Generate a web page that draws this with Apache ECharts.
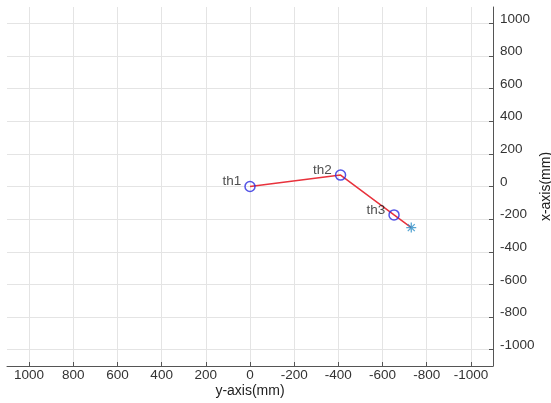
<!DOCTYPE html>
<html lang="en">
<head>
    <meta charset="UTF-8">
    <title>arm</title>
    <script src="https://cdn.jsdelivr.net/npm/echarts@6/dist/echarts.min.js"></script>
</head>
<style>
    html, body { margin: 0; padding: 0; background: #fff; }
    #main { width: 551px; height: 403px; }
</style>
<body>
<div id="main"></div>
<script>
    // joints (horizontal = "y-axis", vertical = "x-axis")
    var jointNames = ['th1', 'th2', 'th3'];
    var jointH = [0, -410, -652];
    var jointV = [0, 70, -174];
    // end effector
    var endH = [-730];
    var endV = [-252];
    // tick labels shown every 200
    var tickValues = [-1000, -800, -600, -400, -200, 0, 200, 400, 600, 800, 1000];

    var font = 'Liberation Sans, Arial, sans-serif';

    var joints = [];
    for (var i in jointNames) {
        joints.push({ value: [jointH[i], jointV[i]], name: jointNames[i] });
    }
    var armLine = [];
    for (var i in jointH) armLine.push([jointH[i], jointV[i]]);
    armLine.push([endH[0], endV[0]]);

    function tickFmt(v) {
        return tickValues.indexOf(v) >= 0 ? String(v) : '';
    }

    var myChart = echarts.init(document.getElementById('main'));
    var option = {
        backgroundColor: '#fff',
        animation: false,
        grid: { left: 7, right: 58, top: 7, bottom: 37, containLabel: false, outerBoundsMode: 'none' },
        xAxis: {
            type: 'value',
            inverse: true,
            min: -1100, max: 1100, interval: 100,
            name: 'y-axis(mm)',
            nameLocation: 'middle',
            nameGap: 18,
            nameMoveOverlap: false,
            nameTextStyle: { fontFamily: font, fontSize: 14, color: '#222' },
            axisLine: { show: true, onZero: false, lineStyle: { color: '#555', width: 1 } },
            axisTick: { show: true, inside: true, length: 4, customValues: tickValues, lineStyle: { color: '#555' } },
            axisLabel: { fontFamily: font, fontSize: 13.5, color: '#333', margin: 2, formatter: tickFmt },
            splitLine: { show: true, lineStyle: { color: '#e4e4e4', width: 1 } }
        },
        yAxis: {
            type: 'value',
            position: 'right',
            min: -1100, max: 1100, interval: 100,
            name: 'x-axis(mm)',
            nameLocation: 'middle',
            nameRotate: 90,
            nameGap: 46,
            nameMoveOverlap: false,
            nameTextStyle: { fontFamily: font, fontSize: 14, color: '#222' },
            axisLine: { show: true, onZero: false, lineStyle: { color: '#555', width: 1 } },
            axisTick: { show: true, inside: true, length: 4, customValues: tickValues, lineStyle: { color: '#555' } },
            axisLabel: { fontFamily: font, fontSize: 13.5, color: '#333', margin: 7,
                verticalAlign: 'bottom', lineHeight: 9, formatter: tickFmt },
            splitLine: { show: true, lineStyle: { color: '#e4e4e4', width: 1 } }
        },
        series: [
            {
                type: 'line',
                data: armLine,
                showSymbol: false,
                symbol: 'none',
                lineStyle: { color: '#e8323c', width: 1.5 },
                z: 2
            },
            {
                type: 'scatter',
                data: joints,
                symbol: 'circle',
                symbolSize: 10,
                itemStyle: { color: 'rgba(255,255,255,0)', borderColor: '#2a2ae0', borderWidth: 1.5 },
                label: {
                    show: true,
                    position: 'left',
                    distance: 3,
                    offset: [0, -5],
                    formatter: '{b}',
                    fontFamily: font,
                    fontSize: 13.5,
                    color: '#222'
                },
                z: 3
            },
            {
                type: 'scatter',
                data: [[endH[0], endV[0]]],
                symbol: 'path://M5,0L5,10M0,5L10,5M1.5,1.5L8.5,8.5M1.5,8.5L8.5,1.5',
                symbolSize: 10,
                itemStyle: { color: 'none', borderColor: '#2e90c8', borderWidth: 1.3 },
                z: 4
            }
        ]
    };
    myChart.setOption(option);
</script>
</body>
</html>
